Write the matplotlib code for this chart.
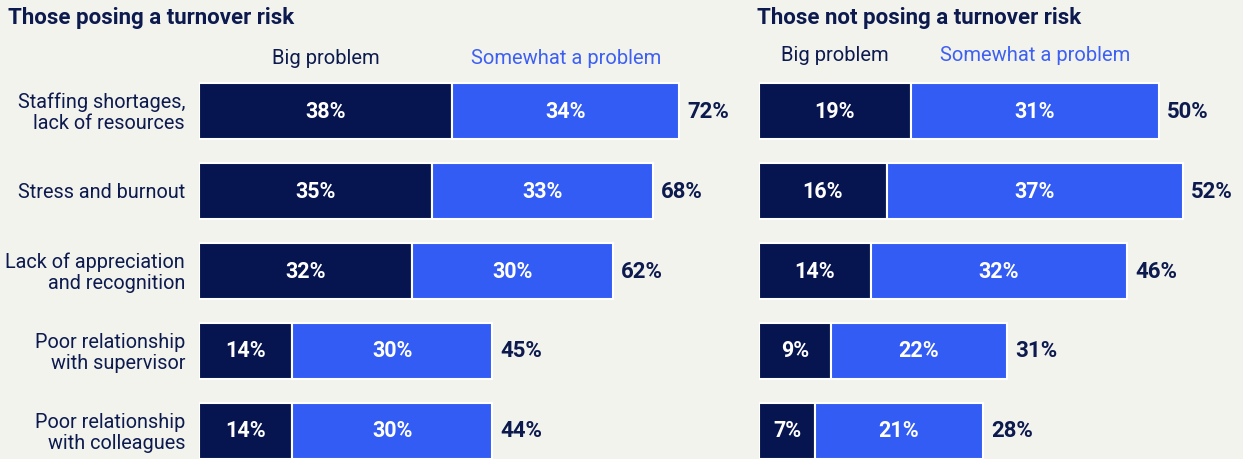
import matplotlib.pyplot as plt
import numpy as np

plt.rcParams['font.family'] = ['Roboto', 'DejaVu Sans']

categories = [
    "Staffing shortages,\nlack of resources",
    "Stress and burnout",
    "Lack of appreciation\nand recognition",
    "Poor relationship\nwith supervisor",
    "Poor relationship\nwith colleagues",
]

risk_big = [38, 35, 32, 14, 14]
risk_somewhat = [34, 33, 30, 30, 30]
risk_total = [72, 68, 62, 45, 44]

safe_big = [19, 16, 14, 9, 7]
safe_somewhat = [31, 37, 32, 22, 21]
safe_total = [50, 52, 46, 31, 28]

BG = "#f3f3ee"
NAVY = "#06144f"
BLUE = "#335cf5"
TEXT = "#0c1a4e"
HEADER_BLUE = "#3d60f2"

W, H = 1243, 460
fig = plt.figure(figsize=(W / 100, H / 100), dpi=100, facecolor=BG)


def panel(x0_px, px_per_pct, xmax, big, somewhat, total, title,
          show_labels, header_y):
    ax = fig.add_axes([x0_px / W, -1.5 / H, px_per_pct * xmax / W, 390 / H])
    ax.patch.set_alpha(0)
    y = np.arange(len(big))
    ax.barh(y, big, height=0.7, color=NAVY, edgecolor="white", linewidth=1.5)
    ax.barh(y, somewhat, left=big, height=0.7, color=BLUE,
            edgecolor="white", linewidth=1.5)
    ax.set_xlim(0, xmax)
    ax.set_ylim(4.375, -0.5)
    ax.axis("off")

    for i in range(len(big)):
        ax.text(big[i] / 2, i, f"{big[i]}%", ha="center", va="center",
                color="white", fontsize=15.5, fontweight="bold")
        ax.text(big[i] + somewhat[i] / 2, i, f"{somewhat[i]}%", ha="center",
                va="center", color="white", fontsize=15.5, fontweight="bold")
        ax.annotate(f"{total[i]}%", xy=(big[i] + somewhat[i], i),
                    xytext=(6, 0), textcoords="offset points", ha="left",
                    va="center", color=TEXT, fontsize=16, fontweight="bold")
        if show_labels:
            ax.annotate(categories[i], xy=(0, i), xytext=(-10, -1),
                        textcoords="offset points", ha="right", va="center",
                        multialignment="right", color=TEXT, fontsize=14.3,
                        linespacing=1.18)

    ax.text(big[0] / 2, header_y, "Big problem", ha="center", va="center",
            color=TEXT, fontsize=14.5)
    ax.text(big[0] + somewhat[0] / 2, header_y, "Somewhat a problem",
            ha="center", va="center", color=HEADER_BLUE, fontsize=14.5)

    fig.text((x0_px - 191) / W if show_labels else (x0_px - 2) / W,
             1 - 18 / H, title, ha="left", va="center", color=TEXT,
             fontsize=16, fontweight="bold")
    return ax


panel(199, 6.67, 80, risk_big, risk_somewhat, risk_total,
      "Those posing a turnover risk", True, -0.66)
panel(759, 8.0, 60, safe_big, safe_somewhat, safe_total,
      "Those not posing a turnover risk", False, -0.7)

fig.savefig("out.png", dpi=100, facecolor=BG)
